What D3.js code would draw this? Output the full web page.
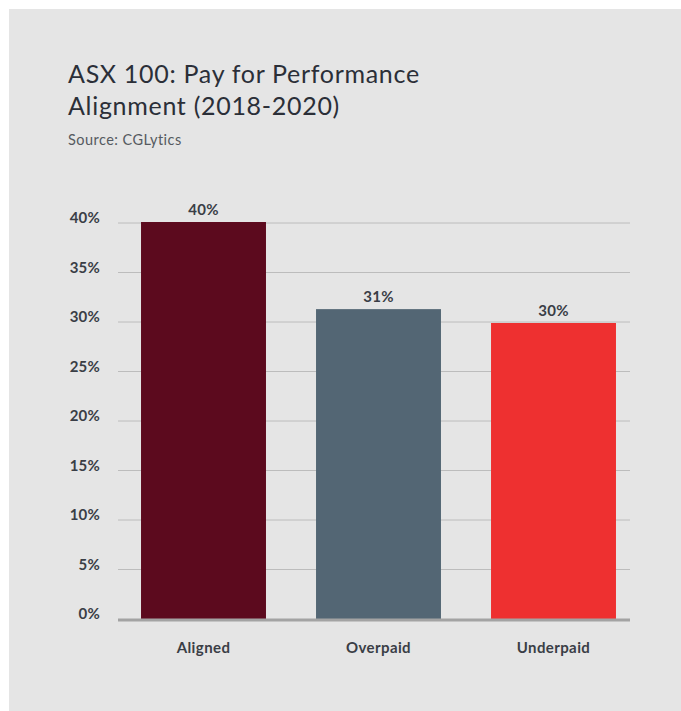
<!DOCTYPE html>
<html>
<head>
<meta charset="utf-8">
<script src="https://cdn.jsdelivr.net/npm/d3@7"></script>
<style>
  body { margin: 0; background: #fff; }
  text { font-family: Lato, "Open Sans", sans-serif; }
</style>
</head>
<body>
<div id="chart"></div>
<script>
var categories = ["Aligned", "Overpaid", "Underpaid"];
var values = [40.1, 31.3, 29.9];
var valueLabels = ["40%", "31%", "30%"];
var yTicks = [0, 5, 10, 15, 20, 25, 30, 35, 40];
var barColors = ["#5c0a1e", "#536674", "#ee3030"];

var width = 681,
    height = 711;

var svg = d3.select("#chart").append("svg")
    .attr("width", width)
    .attr("height", height)

// gray panel
svg.append("rect")
    .attr("x", 9).attr("y", 9)
    .attr("width", width - 9).attr("height", height - 9)
    .attr("fill", "#e5e5e5")

// titles
svg.append("text").attr("x", 68).attr("y", 83)
    .attr("font-size", 25).attr("fill", "#2b2f38")
    .attr("letter-spacing", 0.7)
    .text("ASX 100: Pay for Performance")
svg.append("text").attr("x", 68).attr("y", 115)
    .attr("font-size", 25).attr("fill", "#2b2f38")
    .attr("letter-spacing", 0.7)
    .text("Alignment (2018-2020)")
svg.append("text").attr("x", 68).attr("y", 145)
    .attr("font-size", 14.5).attr("fill", "#555a60")
    .attr("letter-spacing", 0.45)
    .text("Source: CGLytics")

var y = d3.scaleLinear().domain([0, 40]).range([619, 223]);
var x = d3.scaleBand().domain(categories)
    .range([116, 641])
    .paddingInner(0.286)
    .paddingOuter(0.143);

var gridLeft = 118, gridRight = 630;

// gridlines
svg.selectAll(".grid")
    .data(yTicks.filter(function (d) { return d > 0; }))
    .enter().append("line")
    .attr("class", "grid")
    .attr("x1", gridLeft).attr("x2", gridRight)
    .attr("y1", function (d) { return y(d); })
    .attr("y2", function (d) { return y(d); })
    .attr("stroke", "#bcbcbc")
    .attr("stroke-width", 1)

// y axis labels
var yAxis = d3.axisLeft(y)
    .tickValues(yTicks)
    .tickSize(0)
    .tickPadding(0)
    .tickFormat(function (d) { return d + "%"; });

var ya = svg.append("g")
    .attr("transform", "translate(100,-5)")
    .call(yAxis);
ya.select(".domain").remove();
ya.selectAll("text")
    .attr("font-family", "Lato, sans-serif")
    .attr("font-size", 15)
    .attr("font-weight", "bold")
    .attr("letter-spacing", 0.2)
    .attr("fill", "#3a3e46")

// bars
svg.selectAll(".bar")
    .data(values)
    .enter().append("rect")
    .attr("class", "bar")
    .attr("x", function (d, i) { return x(categories[i]); })
    .attr("y", function (d) { return y(d); })
    .attr("width", x.bandwidth())
    .attr("height", function (d) { return y(0) - y(d); })
    .attr("fill", function (d, i) { return barColors[i]; })

// value labels
svg.selectAll(".val")
    .data(values)
    .enter().append("text")
    .attr("class", "val")
    .attr("x", function (d, i) { return x(categories[i]) + x.bandwidth() / 2; })
    .attr("y", function (d) { return y(d) - 7; })
    .attr("text-anchor", "middle")
    .attr("font-size", 15)
    .attr("font-weight", "bold")
    .attr("letter-spacing", 0.2)
    .attr("fill", "#3a3e46")
    .text(function (d, i) { return valueLabels[i]; })

// baseline
svg.append("line")
    .attr("x1", gridLeft).attr("x2", gridRight)
    .attr("y1", y(0) + 1).attr("y2", y(0) + 1)
    .attr("stroke", "#a3a3a3")
    .attr("stroke-width", 3)

// x axis labels
var xAxis = d3.axisBottom(x).tickSize(0).tickPadding(0);
var xa = svg.append("g")
    .attr("transform", "translate(0,642)")
    .call(xAxis);
xa.select(".domain").remove();
xa.selectAll("text")
    .attr("font-family", "Lato, sans-serif")
    .attr("font-size", 15)
    .attr("font-weight", "bold")
    .attr("letter-spacing", 0.4)
    .attr("fill", "#3a3e46")
</script>
</body>
</html>
